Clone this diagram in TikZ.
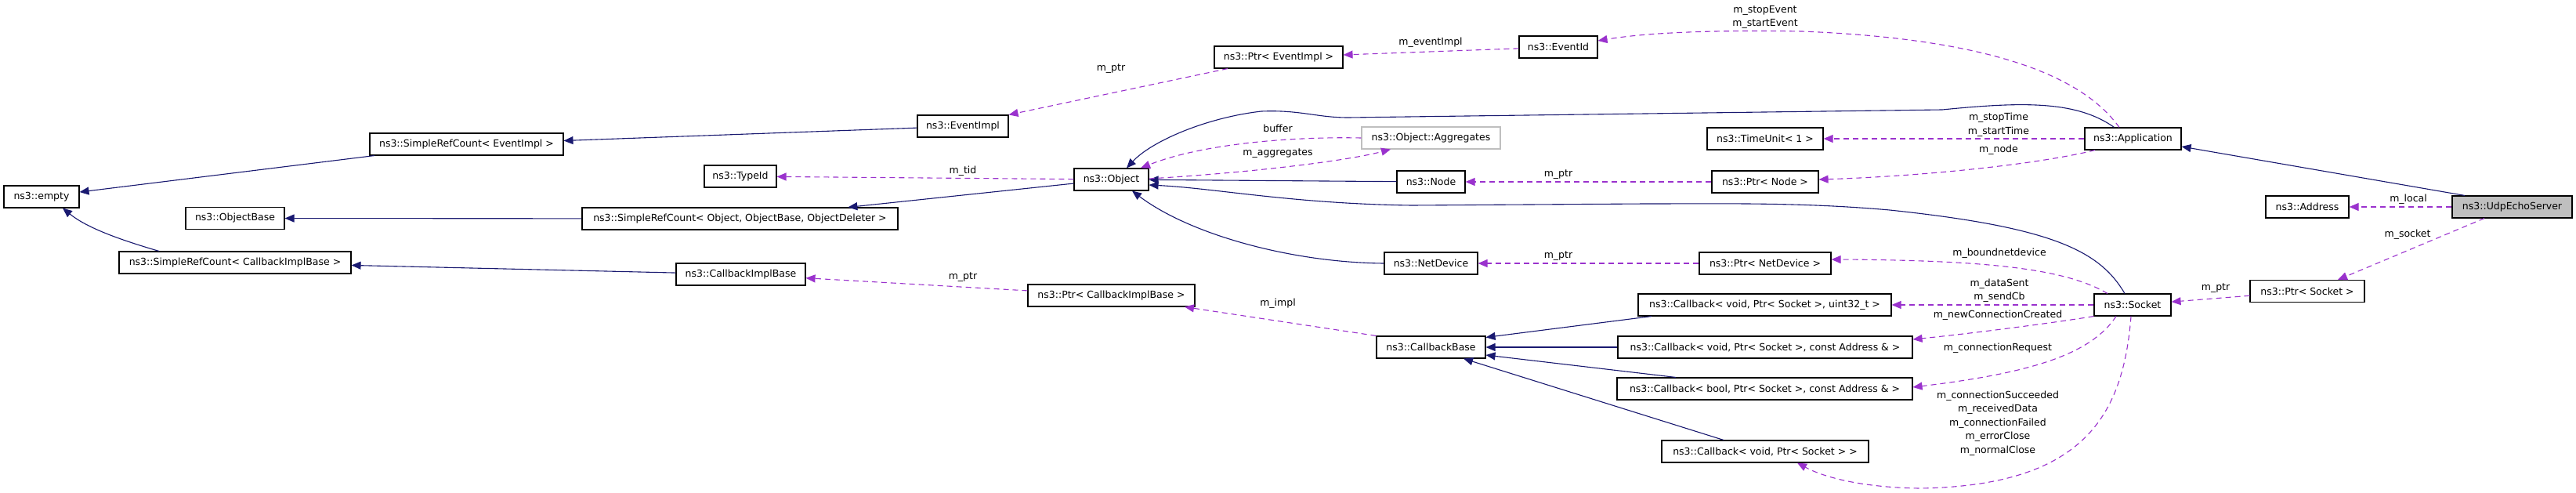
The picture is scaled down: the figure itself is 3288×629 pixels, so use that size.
\documentclass[tikz,border=0pt]{standalone}
\usepackage{fontspec}
\setmainfont{DejaVu Sans}
\usetikzlibrary{arrows.meta}
\definecolor{inhcol}{RGB}{25,25,112}
\definecolor{usecol}{RGB}{154,50,205}
\tikzset{
	cls/.style={draw=black, line width=1.1pt, inner sep=0pt, minimum height=28pt, fill=white},
	inh/.style={draw=inhcol, line width=1.1pt, -{Triangle[length=12pt,width=10pt]}},
	usage/.style={draw=usecol, line width=1.1pt, dash pattern=on 7pt off 5pt, -{Triangle[length=12pt,width=10pt]}},
	lbl/.style={inner sep=0pt, align=center}
}
\begin{document}
\begin{tikzpicture}[x=1pt, y=-1pt, font=\fontsize{12.5}{17.5}\selectfont]
		%%%%% START %%%%%
		\useasboundingbox (0,0) rectangle (3288,629);
		
		\node[cls, minimum width=96pt] (nEmpty) at (53,251) {ns3::empty};
		\node[cls, minimum width=126pt] (objBase) at (300,278.5) {ns3::ObjectBase};
		\node[cls, minimum width=296pt] (srcCib) at (300,335) {ns3::SimpleRefCount< CallbackImplBase >};
		\node[cls, minimum width=247pt] (srcEv) at (595.5,184) {ns3::SimpleRefCount< EventImpl >};
		
		\node[cls, minimum width=116pt] (evImpl) at (1229,161) {ns3::EventImpl};
		\node[cls, minimum width=92pt] (typeId) at (945,225) {ns3::TypeId};
		\node[cls, minimum width=403pt] (srcObj) at (944.5,279) {ns3::SimpleRefCount< Object, ObjectBase, ObjectDeleter >};
		\node[cls, minimum width=165pt] (cib) at (945.5,350) {ns3::CallbackImplBase};
		
		\node[cls, minimum width=95pt] (obj) at (1418.5,229) {ns3::Object};
		\node[cls, minimum width=164pt] (ptrEv) at (1632,73) {ns3::Ptr< EventImpl >};
		\node[cls, minimum width=213pt] (ptrCib) at (1418.5,377) {ns3::Ptr< CallbackImplBase >};
		
		\node[cls, minimum width=100pt] (evId) at (1989,60) {ns3::EventId};
		\node[cls, minimum width=177pt, draw=gray!50] (aggr) at (1826.5,176) {ns3::Object::Aggregates};
		\node[cls, minimum width=87pt] (node) at (1826.5,232) {ns3::Node};
		\node[cls, minimum width=119pt] (netDev) at (1826.5,336) {ns3::NetDevice};
		\node[cls, minimum width=139pt] (cbBase) at (1826.5,443) {ns3::CallbackBase};
		
		\node[cls, minimum width=148pt] (timeUnit) at (2253,177) {ns3::TimeUnit< 1 >};
		\node[cls, minimum width=136pt] (ptrNode) at (2253,232) {ns3::Ptr< Node >};
		\node[cls, minimum width=168pt] (ptrNet) at (2253,336) {ns3::Ptr< NetDevice >};
		\node[cls, minimum width=323pt] (cbU) at (2252.5,389) {ns3::Callback< void, Ptr< Socket >, uint32\_t >};
		\node[cls, minimum width=376pt] (cbA) at (2253,443) {ns3::Callback< void, Ptr< Socket >, const Address \& >};
		\node[cls, minimum width=377pt] (cbB) at (2252.5,496) {ns3::Callback< bool, Ptr< Socket >, const Address \& >};
		\node[cls, minimum width=264pt] (cbV) at (2253,576) {ns3::Callback< void, Ptr< Socket > >};
		
		\node[cls, minimum width=123pt] (app) at (2722.5,177) {ns3::Application};
		\node[cls, minimum width=98pt] (sock) at (2722,389) {ns3::Socket};
		\node[cls, minimum width=106pt] (addr) at (2945,264) {ns3::Address};
		\node[cls, minimum width=146pt] (ptrSock) at (2945,371.5) {ns3::Ptr< Socket >};
		\node[cls, minimum width=153pt, fill=gray!50] (udp) at (3206.5,264) {ns3::UdpEchoServer};
		
		% labels
		\node[lbl] (lTid) at (1229,218) {m\_tid};
		\node[lbl] (lPtrEv) at (1418,88) {m\_ptr};
		\node[lbl] (lEvImpl) at (1826,54) {m\_eventImpl};
		\node[lbl] (lEvents) at (2253,22) {m\_stopEvent\\m\_startEvent};
		\node[lbl] (lBuffer) at (1631,164) {buffer};
		\node[lbl] (lAggr) at (1631,196) {m\_aggregates};
		\node[lbl] (lPtrNode) at (1989,223) {m\_ptr};
		\node[lbl] (lTimes) at (2551,159) {m\_stopTime\\m\_startTime};
		\node[lbl] (lNode) at (2551,191) {m\_node};
		\node[lbl] (lLocal) at (3074,254) {m\_local};
		\node[lbl] (lSocket) at (3073,299) {m\_socket};
		\node[lbl] (lPtrCib) at (1229,354) {m\_ptr};
		\node[lbl] (lImpl) at (1631,387) {m\_impl};
		\node[lbl] (lPtrNet) at (1989,327) {m\_ptr};
		\node[lbl] (lBound) at (2552,323) {m\_boundnetdevice};
		\node[lbl] (lSent) at (2552,370.5) {m\_dataSent\\m\_sendCb};
		\node[lbl] (lNewConn) at (2550,402) {m\_newConnectionCreated};
		\node[lbl] (lConnReq) at (2550,444) {m\_connectionRequest};
		\node[lbl] (lCbs) at (2550,540) {m\_connectionSucceeded\\m\_receivedData\\m\_connectionFailed\\m\_errorClose\\m\_normalClose};
		\node[lbl] (lPtrSock) at (2828,368) {m\_ptr};
		
		% inheritance
		\draw[inh] (srcEv) -- (nEmpty);
		\draw[inh] ([xshift=-97pt]srcCib.north) .. controls (150,305) and (110,290) .. ([xshift=27pt]nEmpty.south);
		\draw[inh] (srcObj) -- (objBase);
		\draw[inh] (obj) -- (srcObj);
		\draw[inh] (evImpl) -- (srcEv);
		\draw[inh] (cib) -- (srcCib);
		\draw[inh] (node) -- (obj);
		\draw[inh] ([xshift=-24pt]app.north) .. controls (2650,128) and (2580,130) .. (2479,140) -- (1721,150) .. controls (1680,150) and (1660,140) .. (1610,142) .. controls (1540,150) and (1470,180) .. ([xshift=19.5pt]obj.north);
		\draw[inh] (netDev.west) .. controls (1650,335) and (1520,300) .. ([xshift=26.5pt]obj.south);
		\draw[inh] ([xshift=-10pt]sock.north) .. controls (2680,320) and (2620,290) .. (2412,268) .. controls (2300,258) and (2200,260) .. (2100,260) -- (1802,262) .. controls (1650,260) and (1550,240) .. ([yshift=-7pt]obj.east);
		\draw[inh] ([xshift=-144.5pt]cbU.south) -- ([yshift=-2pt]cbBase.north east);
		\draw[inh] (cbA) -- (cbBase);
		\draw[inh] ([xshift=-113.5pt]cbB.north) -- ([yshift=-10pt]cbBase.east);
		\draw[inh] ([xshift=-53pt]cbV.north) -- ([xshift=41.5pt]cbBase.south);
		\draw[inh] ([xshift=-60.5pt]udp.north) -- ([yshift=-10pt]app.east);
		
		% usage
		\draw[usage] ([xshift=-65pt]ptrEv.south) -- (evImpl.north east);
		\draw[usage] (evId) -- (ptrEv);
		\draw[usage] ([xshift=-17.5pt]app.north) .. controls (2660,100) and (2550,50) .. (2300,40) .. controls (2180,38) and (2100,42) .. ([yshift=8pt]evId.east);
		\draw[usage] (obj) -- (typeId);
		\draw[usage] (aggr.west) .. controls (1640,174) and (1530,185) .. ([xshift=37.5pt]obj.north);
		\draw[usage] ([yshift=1pt]obj.east) .. controls (1600,220) and (1720,205) .. ([xshift=-51.5pt]aggr.south);
		\draw[usage] (ptrNode) -- (node);
		\draw[usage] (app) -- (timeUnit);
		\draw[usage] ([xshift=-48.5pt]app.south) .. controls (2600,210) and (2450,225) .. ([yshift=3pt]ptrNode.east);
		\draw[usage] (udp) -- (addr);
		\draw[usage] ([xshift=-35.5pt]udp.south) -- ([xshift=39pt]ptrSock.north);
		\draw[usage] (ptrSock) -- (sock);
		\draw[usage] (ptrCib) -- (cib);
		\draw[usage] (cbBase.north west) -- ([xshift=93.5pt]ptrCib.south);
		\draw[usage] (ptrNet) -- (netDev);
		\draw[usage] ([xshift=-32pt]sock.north) .. controls (2640,345) and (2550,332) .. ([yshift=5pt]ptrNet.east);
		\draw[usage] (sock) -- (cbU);
		\draw[usage] (sock.south west) .. controls (2620,412) and (2520,425) .. ([yshift=10pt]cbA.east);
		\draw[usage] ([xshift=-21pt]sock.south) .. controls (2670,450) and (2600,475) .. ([yshift=2pt]cbB.east);
		\draw[usage] ([xshift=-2pt]sock.south) .. controls (2710,530) and (2660,620) .. (2450,623) .. controls (2380,622) and (2330,610) .. ([xshift=41pt]cbV.south);
		
		%%%%% END %%%%%
	\end{tikzpicture}
\end{document}
